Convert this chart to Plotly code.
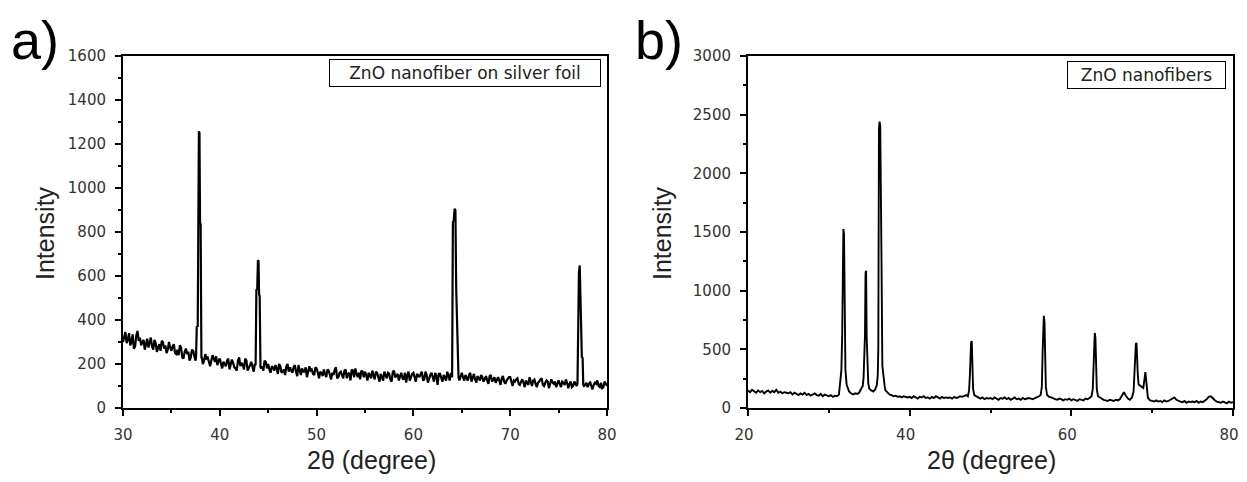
import plotly.graph_objects as go

PAGE_W, PAGE_H = 1247, 482
OX, OY = 8, 8  # page body margin
W, H = PAGE_W - 2 * OX, PAGE_H - 2 * OY  # figure fits the window without scrolling

# ---------------- Panel a: ZnO nanofiber on silver foil ----------------
a_start, a_step = 30.0, 0.25
a_base = [
    300, 345, 310, 285, 335, 280, 350, 320, 295, 265, 315, 300, 280, 310, 255, 290, 305, 270, 250, 300,
    260, 290, 245, 240, 275, 225, 270, 255, 230, 260, 215, 210, 255, 200, 245, 230, 190, 240, 210, 195,
    225, 180, 200, 215, 175, 220, 185, 170, 230, 205, 175, 215, 180, 210, 165, 200, 220, 180, 170, 210,
    200, 160, 185, 195, 155, 190, 165, 150, 200, 185, 160, 195, 145, 170, 180, 165, 140, 190, 175, 150,
    180, 135, 160, 175, 140, 170, 130, 150, 185, 140, 165, 135, 175, 155, 125, 170, 180, 140, 130, 165,
    165, 125, 150, 170, 130, 160, 120, 140, 165, 135, 155, 120, 170, 145, 125, 160, 130, 115, 165, 140,
    160, 120, 145, 155, 125, 165, 115, 150, 135, 160, 105, 155, 120, 140, 165, 125, 155, 130, 150, 125,
    160, 125, 140, 150, 120, 155, 115, 135, 150, 120, 145, 110, 150, 130, 115, 140, 105, 145, 110, 135,
    140, 100, 120, 135, 105, 130, 95, 115, 140, 100, 130, 95, 120, 135, 100, 125, 90, 130, 110, 95,
    125, 95, 115, 130, 90, 120, 100, 110, 125, 90, 130, 105, 95, 120, 85, 115, 125, 95, 90, 120,
    100,
]
# readings in between the grid above (30.125, 30.375, ...)
a_mid_start = 30.125
a_mid = [
    325, 295, 340, 300, 270, 330, 305, 285, 310, 290, 275, 320, 265, 295, 280, 260, 300, 285, 265, 275,
    280, 250, 265, 285, 230, 255, 245, 215, 265, 235, 250, 225, 235, 215, 225, 205, 215, 225, 235, 215,
    200, 210, 190, 225, 195, 205, 180, 215, 190, 195, 225, 170, 195, 185, 200, 175, 205, 190, 215, 180,
    175, 190, 170, 180, 200, 160, 175, 190, 165, 170, 185, 165, 195, 150, 165, 185, 160, 170, 155, 185,
    160, 165, 145, 155, 175, 150, 160, 175, 135, 160, 150, 170, 135, 160, 175, 140, 155, 160, 170, 140,
    150, 160, 135, 145, 165, 140, 155, 125, 150, 160, 130, 165, 140, 155, 145, 135, 160, 150, 125, 155,
    135, 155, 140, 165, 130, 150, 140, 160, 120, 145, 155, 130, 150, 125, 145, 160, 140, 150, 140, 145,
    140, 150, 125, 160, 135, 130, 145, 125, 140, 130, 125, 145, 120, 140, 130, 125, 135, 120, 125, 140,
    115, 125, 130, 110, 120, 115, 125, 105, 120, 125, 110, 115, 130, 105, 115, 120, 110, 115, 120, 110,
    110, 120, 105, 115, 110, 95, 120, 100, 110, 115, 100, 115, 110, 100, 105, 110, 100, 115, 95, 110,
]
a_peak1_x = [37.55, 37.62, 37.72, 37.84, 37.90, 37.96, 38.02, 38.10]
a_peak1_y = [235, 372, 368, 1258, 1250, 842, 835, 225]
a_peak2_x = [43.70, 43.78, 43.86, 43.94, 44.00, 44.06, 44.12, 44.20]
a_peak2_y = [195, 540, 535, 672, 668, 515, 510, 185]
a_peak3_x = [64.00, 64.08, 64.16, 64.26, 64.34, 64.42, 64.50, 64.58, 64.66]
a_peak3_y = [140, 845, 850, 905, 900, 545, 370, 365, 140]
a_peak4_x = [76.95, 77.03, 77.10, 77.18, 77.25, 77.32, 77.40, 77.48, 77.55]
a_peak4_y = [110, 610, 615, 648, 392, 388, 232, 228, 105]

# ---------------- Panel b: ZnO nanofibers ----------------
b_start, b_step = 20.0, 0.25
b_base = [
    150, 135, 155, 140, 130, 150, 135, 145, 125, 140, 150, 130, 145, 135, 155, 130, 140, 125, 135, 130,
    125, 135, 115, 130, 120, 110, 125, 115, 130, 110, 120, 105, 115, 125, 110, 105, 120, 100, 115, 105,
    100, 110, 95, 105, 100, 115, 130, 150, 150, 140, 140, 125, 115, 125, 120, 130, 160, 170, 180, 170,
    165, 150, 140, 160, 170, 200, 260, 190, 150, 130, 115, 110, 100, 105, 95, 100, 90, 100, 95, 90,
    95, 85, 100, 90, 80, 95, 90, 100, 85, 90, 80, 95, 85, 100, 90, 80, 95, 85, 90, 85,
    90, 80, 95, 85, 90, 100, 95, 105, 110, 130, 120, 110, 100, 100, 85, 80, 90, 75, 85, 80,
    85, 75, 90, 80, 70, 85, 80, 90, 75, 85, 70, 80, 90, 75, 80, 70, 85, 75, 80, 85,
    80, 75, 85, 90, 100, 130, 150, 140, 120, 95, 90, 80, 75, 70, 80, 75, 65, 75, 70, 80,
    65, 75, 70, 60, 75, 70, 65, 80, 75, 85, 100, 120, 100, 80, 90, 75, 70, 65, 60, 70,
    65, 60, 70, 65, 75, 100, 135, 105, 80, 70, 90, 120, 300, 250, 190, 180, 200, 250, 85, 65,
    60, 55, 65, 55, 60, 50, 65, 55, 60, 70, 85, 90, 70, 60, 55, 50, 60, 45, 55, 50,
    55, 50, 60, 45, 55, 50, 60, 75, 95, 100, 85, 65, 55, 50, 45, 55, 50, 40, 55, 45,
    50,
]
b_peak1_x = [31.30, 31.45, 31.55, 31.65, 31.72, 31.80, 31.88, 31.95, 32.05, 32.20, 32.35]
b_peak1_y = [150, 200, 320, 610, 1510, 1525, 1480, 590, 330, 200, 160]
b_peak2_x = [34.20, 34.30, 34.40, 34.47, 34.54, 34.61, 34.68, 34.78, 34.88, 34.98]
b_peak2_y = [190, 260, 450, 620, 1150, 1170, 610, 330, 210, 175]
b_peak3_x = [35.95, 36.05, 36.12, 36.20, 36.28, 36.36, 36.44, 36.52, 36.62, 36.75, 36.90]
b_peak3_y = [200, 280, 500, 2380, 2440, 2400, 1250, 1230, 360, 250, 190]
b_peak4_x = [47.20, 47.35, 47.45, 47.52, 47.60, 47.68, 47.75, 47.85, 48.00]
b_peak4_y = [100, 150, 280, 520, 560, 570, 300, 160, 110]
b_peak5_x = [56.20, 56.35, 56.45, 56.52, 56.60, 56.68, 56.75, 56.85, 57.00]
b_peak5_y = [110, 180, 480, 760, 785, 730, 380, 180, 110]
b_peak6_x = [62.50, 62.65, 62.75, 62.82, 62.90, 62.98, 63.05, 63.15, 63.30]
b_peak6_y = [100, 160, 390, 620, 640, 600, 340, 160, 100]
b_peak7_x = [67.70, 67.80, 67.90, 67.98, 68.06, 68.14, 68.22, 68.32]
b_peak7_y = [140, 300, 510, 545, 555, 300, 290, 200]
b_peak8_x = [68.90, 69.00, 69.08, 69.16, 69.24, 69.34, 69.48]
b_peak8_y = [170, 220, 290, 305, 250, 150, 80]

a_ticks = ["0", "200", "400", "600", "800", "1000", "1200", "1400", "1600"]
b_ticks = ["0", "500", "1000", "1500", "2000", "2500", "3000"]


def build(grids, step, peaks):
    pts = []
    for start, base in grids:
        for i, y in enumerate(base):
            x = round(start + i * step, 4)
            if not any(px[0] <= x <= px[-1] for px, py in peaks):
                pts.append((x, y))
    for px, py in peaks:
        pts += list(zip(px, py))
    pts.sort()
    return [p[0] for p in pts], [p[1] for p in pts]


ax, ay = build([(a_start, a_base), (a_mid_start, a_mid)], a_step,
               [(a_peak1_x, a_peak1_y), (a_peak2_x, a_peak2_y),
                (a_peak3_x, a_peak3_y), (a_peak4_x, a_peak4_y)])
bx, by = build([(b_start, b_base)], b_step,
               [(b_peak1_x, b_peak1_y), (b_peak2_x, b_peak2_y), (b_peak3_x, b_peak3_y),
                (b_peak4_x, b_peak4_y), (b_peak5_x, b_peak5_y), (b_peak6_x, b_peak6_y),
                (b_peak7_x, b_peak7_y), (b_peak8_x, b_peak8_y)])

fig = go.Figure()
fig.add_trace(go.Scatter(x=ax, y=ay, mode="lines", line=dict(color="black", width=2.2),
                         xaxis="x", yaxis="y", showlegend=False))
fig.add_trace(go.Scatter(x=bx, y=by, mode="lines", line=dict(color="black", width=1.9),
                         xaxis="x2", yaxis="y2", showlegend=False))

tickfont = dict(family="DejaVu Sans", size=15, color="#333333")
common = dict(showline=True, linecolor="black", linewidth=2, mirror=True,
              ticks="outside", ticklen=6, tickwidth=1.5, tickcolor="black",
              showgrid=False, zeroline=False, tickfont=tickfont, automargin=False,
              ticklabeloverflow="allow")


def minor(d):
    return dict(dtick=d, ticks="outside", ticklen=3, tickwidth=1.5, tickcolor="black", showgrid=False)


def px_x(p):
    return (p - OX) / W


def px_y(p):
    return 1 - (p - OY) / H


ydom = [px_y(408), px_y(56)]
fig.update_layout(
    width=W, height=H, margin=dict(l=0, r=0, t=0, b=0, autoexpand=False),
    plot_bgcolor="white", paper_bgcolor="white", showlegend=False,
    xaxis=dict(domain=[px_x(123), px_x(607)], range=[30, 80], tick0=30, dtick=10, minor=minor(5),
               anchor="y", ticklabelstandoff=6, **common),
    yaxis=dict(domain=ydom, range=[0, 1600], tickvals=[int(t) for t in a_ticks], ticktext=a_ticks,
               minor=minor(100), anchor="x", ticklabelstandoff=6, **common),
    xaxis2=dict(domain=[px_x(748), px_x(1233)], range=[20, 80], tick0=20, dtick=20, minor=minor(10),
                anchor="y2", ticklabelstandoff=6, ticklabelshift=-4, **common),
    yaxis2=dict(domain=ydom, range=[0, 3000], tickvals=[int(t) for t in b_ticks], ticktext=b_ticks,
                minor=minor(250), anchor="x2", ticklabelstandoff=6, **common),
)

title_font = dict(family="Liberation Sans", size=25, color="#222222")
ann = []
for xc in (45, 662):
    ann.append(dict(text="Intensity", x=px_x(xc), y=px_y(233), xref="paper", yref="paper",
                    xanchor="center", yanchor="middle", textangle=-90, showarrow=False, font=title_font))
for xc in (371, 991):
    ann.append(dict(text="2θ (degree)", x=px_x(xc), y=px_y(460), xref="paper", yref="paper",
                    xanchor="center", yanchor="middle", showarrow=False, font=title_font))
label_font = dict(family="Liberation Sans", size=54, color="black")
ann.append(dict(text="a)", x=px_x(9), y=px_y(8), xref="paper", yref="paper", xanchor="left",
                yanchor="top", showarrow=False, font=label_font))
ann.append(dict(text="b)", x=px_x(633), y=px_y(8), xref="paper", yref="paper", xanchor="left",
                yanchor="top", showarrow=False, font=label_font))
box_font = dict(family="DejaVu Sans", size=17, color="#222222")
ann.append(dict(text="ZnO nanofiber on silver foil", x=px_x(601), y=px_y(59), xref="paper", yref="paper",
                xanchor="right", yanchor="top", showarrow=False, font=box_font,
                bordercolor="black", borderwidth=1, borderpad=1, bgcolor="white", width=268, height=24))
ann.append(dict(text="ZnO nanofibers", x=px_x(1226), y=px_y(61), xref="paper", yref="paper",
                xanchor="right", yanchor="top", showarrow=False, font=box_font,
                bordercolor="black", borderwidth=1, borderpad=1, bgcolor="white", width=155, height=24))
fig.update_layout(annotations=ann)

fig.write_html("out.html")
